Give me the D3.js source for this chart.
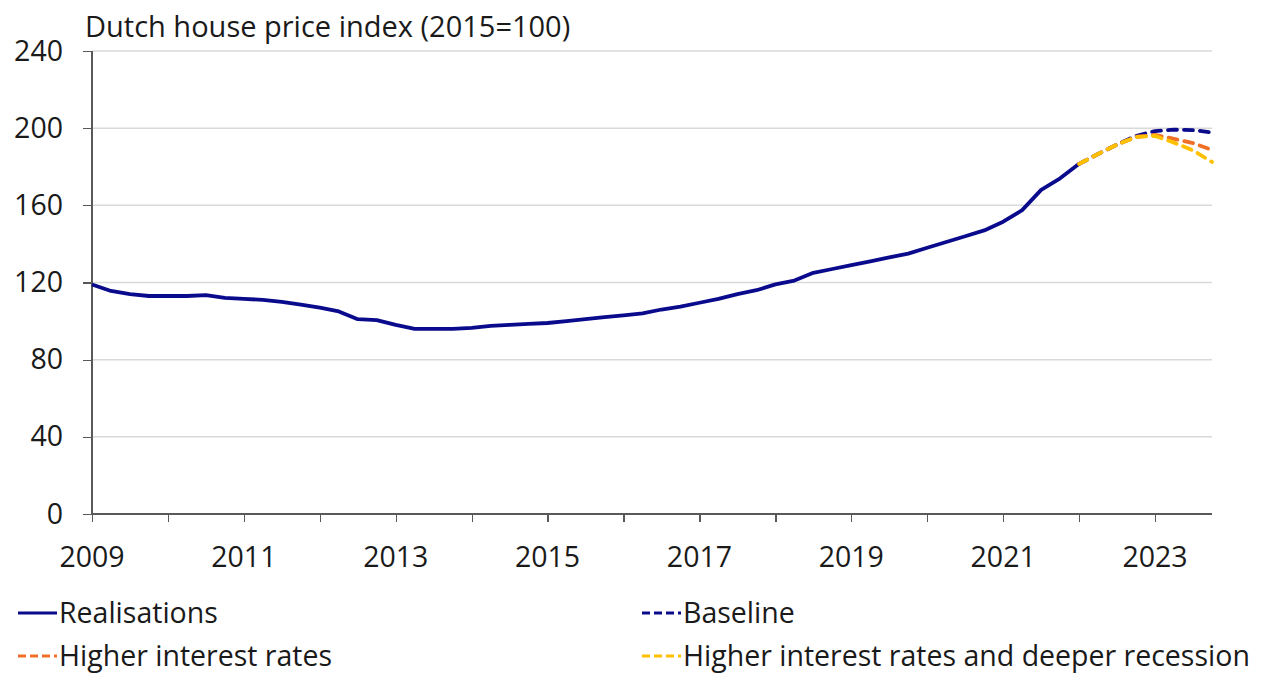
<!DOCTYPE html>
<html lang="en">
<head>
<meta charset="utf-8">
<title>Dutch house price index</title>
<script src="https://cdn.jsdelivr.net/npm/d3@7"></script>
<style>
  body { margin: 0; background: #fff; }
  svg text { font-family: "Open Sans", "Noto Sans", sans-serif; fill: #1a1a1a; }
  .grid line { stroke: #d9d9d9; stroke-width: 1.5; }
  .axis path, .axis line { stroke: #595959; stroke-width: 1.3; shape-rendering: crispEdges; }
</style>
</head>
<body>
<script>
// quarterly data, first quarter of 2009 onward
var startYear = 2009;
var realisations = [119, 115.6, 114, 113, 113, 113, 113.5, 112, 111.5, 111, 110, 108.5,
                    107, 105, 101, 100.5, 98, 96, 96, 96, 96.5, 97.5, 98, 98.5,
                    99, 100, 101, 102, 103, 104, 106, 107.5, 109.5, 111.5, 114, 116,
                    119, 121, 125, 127, 129, 131, 133, 135, 138, 141, 144, 147,
                    151.5, 157.5, 168, 174, 181.5];
// projections from 2022Q1 to 2023Q4
var projStart = 2022;
var baseline = [181.5, 186.6, 191.5, 196, 198.5, 199.2, 199, 197.8];
var higherRates = [181.5, 186.6, 191.5, 195.5, 196.5, 194.5, 192.3, 188.7];
var deeperRecession = [181.5, 186.6, 191.5, 195.5, 196, 192.5, 188.5, 182.5];

var yTicks = [0, 40, 80, 120, 160, 200, 240];
var xLabels = [2009, 2011, 2013, 2015, 2017, 2019, 2021, 2023];
var xMinor = d3.range(2009, 2024);

var series = [
  {name: "Realisations", values: realisations, start: startYear, color: "#0a0a8c", dash: null},
  {name: "Baseline", values: baseline, start: projStart, color: "#0a0a8c", dash: "9,7"},
  {name: "Higher interest rates", values: higherRates, start: projStart, color: "#f07028", dash: "9,7"},
  {name: "Higher interest rates and deeper recession", values: deeperRecession, start: projStart, color: "#ffc000", dash: "9,7"}
];

var w = 1263, h = 675;
var fs = "28.5px";
var x = d3.scaleLinear().domain([2009, 2023.75]).range([92, 1212]);
var y = d3.scaleLinear().domain([0, 240]).range([514, 51]);

var svg = d3.select("body").append("svg").attr("width", w).attr("height", h);

// title
svg.append("text").attr("x", 85).attr("y", 37)
   .attr("font-size", "29px").text("Dutch house price index (2015=100)");

// gridlines
svg.append("g").attr("class", "grid")
   .selectAll("line").data(yTicks.filter(function(d) { return d > 0; }))
   .enter().append("line")
   .attr("x1", x(2009)).attr("x2", x(2023.75))
   .attr("y1", function(d) { return y(d); }).attr("y2", function(d) { return y(d); });

// y axis
var yAxis = d3.axisLeft(y).tickValues(yTicks).tickSize(9).tickPadding(20);
var gy = svg.append("g").attr("class", "axis").attr("transform", "translate(" + x(2009) + ",0)").call(yAxis);
gy.select(".domain").attr("d", "M0," + y(240) + "V" + y(0));
gy.selectAll("text").attr("font-size", fs).attr("font-family", null);

// x axis
var xAxis = d3.axisBottom(x).tickValues(xMinor).tickSize(8).tickFormat("");
var gx = svg.append("g").attr("class", "axis").attr("transform", "translate(0," + y(0) + ")").call(xAxis);
gx.select(".domain").attr("d", "M" + x(2009) + ",0H" + x(2023.75));

svg.append("g").selectAll("text").data(xLabels).enter().append("text")
   .attr("x", function(d) { return x(d); })
   .attr("y", 567)
   .attr("text-anchor", "middle")
   .attr("font-size", fs)
   .text(function(d) { return d; });

// lines
var line = d3.line()
  .x(function(d) { return x(d[0]); })
  .y(function(d) { return y(d[1]); });

svg.append("g").selectAll("path").data(series).enter().append("path")
   .attr("fill", "none")
   .attr("stroke", function(d) { return d.color; })
   .attr("stroke-width", 3.8)
   .attr("stroke-linejoin", "round")
   .attr("stroke-linecap", function(d) { return d.dash ? "round" : "butt"; })
   .attr("stroke-dasharray", function(d) { return d.dash; })
   .attr("d", function(d) {
     return line(d.values.map(function(v, i) { return [d.start + i / 4, v]; }));
   });

// legend
var legendPos = [[18, 613], [642, 613], [18, 656], [642, 656]];
var lg = svg.append("g").selectAll("g").data(series).enter().append("g")
   .attr("transform", function(d, i) { return "translate(" + legendPos[i][0] + "," + legendPos[i][1] + ")"; });
lg.append("line").attr("x1", 0).attr("x2", 39).attr("y1", 0).attr("y2", 0)
  .attr("stroke", function(d) { return d.color; })
  .attr("stroke-width", 3)
  .attr("stroke-dasharray", function(d) { return d.dash ? "8,4" : null; });
lg.append("text").attr("x", 41).attr("y", 10).attr("font-size", fs)
  .text(function(d) { return d.name; });
</script>
</body>
</html>
